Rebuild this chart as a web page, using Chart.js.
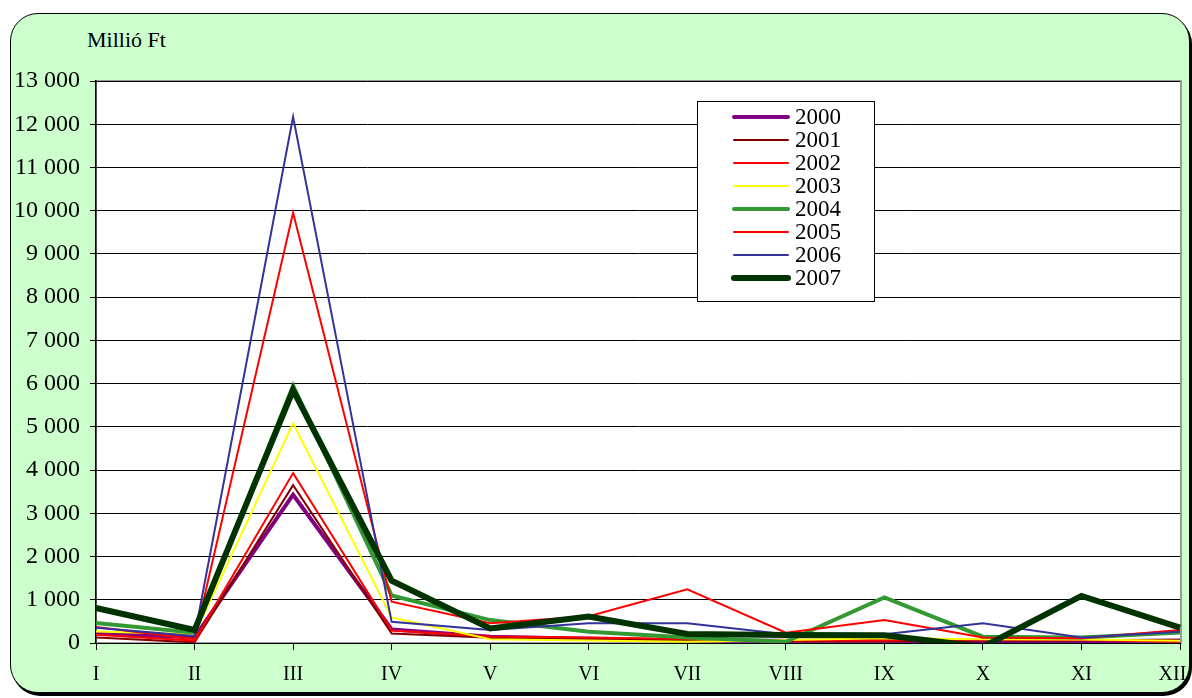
<!DOCTYPE html>
<html>
<head>
<meta charset="utf-8">
<script src="https://cdn.jsdelivr.net/npm/chart.js@4/dist/chart.umd.min.js"></script>
<style>
  html, body { margin:0; padding:0; background:#fff; width:1192px; height:698px; overflow:hidden; }
  #box { position:absolute; left:10px; top:13px; width:1178px; height:678px; border:1.5px solid #000; border-radius:28px; box-shadow:2px 3px 0 #000; background:#CCFFCC; }
  #unit { position:absolute; left:87px; top:29px; font:22px "Liberation Serif", "Times New Roman", serif; line-height:1; color:#000; }
  #c { position:absolute; left:0; top:0; }
</style>
</head>
<body>
<div id="box"></div>
<div id="unit">Millió Ft</div>
<canvas id="c" width="1192" height="698"></canvas>
<script>
const months = ["I","II","III","IV","V","VI","VII","VIII","IX","X","XI","XII"];
const years = ["2000","2001","2002","2003","2004","2005","2006","2007"];
const v2000 = [230, 130, 3430, 315, 145, 100, 60, 50, 50, 40, 40, 60];
const v2001 = [125, 15, 3650, 220, 120, 90, 50, 40, 40, 60, 60, 70];
const v2002 = [190, 55, 3930, 290, 150, 130, 90, 60, 60, 80, 70, 30];
const v2003 = [265, 205, 5080, 590, 85, 55, 30, 70, 110, 85, 80, 50];
const v2004 = [460, 240, 5950, 1100, 530, 260, 130, 30, 1055, 145, 130, 240];
const v2005 = [370, 90, 9950, 955, 455, 620, 1240, 240, 530, 130, 110, 300];
const v2006 = [350, 160, 12170, 490, 300, 455, 455, 200, 200, 455, 130, 260];
const v2007 = [810, 300, 5850, 1440, 335, 610, 210, 185, 180, -90, 1090, 355];
const yMin = 0, yMax = 13000, yStep = 1000;

const seriesValues = [v2000, v2001, v2002, v2003, v2004, v2005, v2006, v2007];
const colors = ["#800080", "#800000", "#FF0000", "#FFFF00", "#339933", "#FF0000", "#333399", "#003300"];
const widths = [4, 2, 2, 2, 4, 2, 2, 6];

const serif = '"Liberation Serif", "Times New Roman", serif';

const datasets = years.map((y, i) => ({
  label: y,
  data: seriesValues[i],
  borderColor: colors[i],
  backgroundColor: colors[i],
  borderWidth: widths[i],
  pointRadius: 0,
  pointHoverRadius: 0,
  tension: 0,
  fill: false,
  order: years.length - 1 - i,
  borderJoinStyle: 'miter'
}));

const plotBg = {
  id: 'plotBg',
  beforeDraw(chart) {
    const {ctx, chartArea: a} = chart;
    ctx.save();
    ctx.fillStyle = '#fff';
    ctx.fillRect(a.left, a.top, a.right - a.left, a.bottom - a.top);
    ctx.strokeStyle = '#808080';
    ctx.lineWidth = 1.5;
    ctx.strokeRect(a.left, a.top, a.right - a.left + 1, a.bottom - a.top);
    ctx.restore();
  }
};

const legendBox = {
  id: 'legendBox',
  afterDraw(chart) {
    const ctx = chart.ctx;
    const bx = 697, by = 101, bw = 177, bh = 200;
    ctx.save();
    ctx.fillStyle = '#fff';
    ctx.fillRect(bx, by, bw, bh);
    ctx.strokeStyle = '#000';
    ctx.lineWidth = 1;
    ctx.strokeRect(bx + 0.5, by + 0.5, bw, bh);
    ctx.font = '23px ' + serif;
    ctx.textBaseline = 'middle';
    ctx.textAlign = 'left';
    chart.data.datasets.forEach((ds, i) => {
      const y = 117 + i * 23;
      ctx.beginPath();
      ctx.strokeStyle = ds.borderColor;
      ctx.lineWidth = ds.borderWidth;
      ctx.lineCap = 'round';
      ctx.moveTo(734, y);
      ctx.lineTo(788, y);
      ctx.stroke();
      ctx.fillStyle = '#000';
      ctx.fillText(ds.label, 795, y + 1);
    });
    ctx.restore();
  }
};

new Chart(document.getElementById('c'), {
  type: 'line',
  data: { labels: months, datasets },
  options: {
    responsive: false,
    animation: false,
    events: [],
    layout: { padding: { left: 0, top: 81, right: 12, bottom: 0 } },
    plugins: { legend: { display: false }, tooltip: { enabled: false }, title: { display: false } },
    scales: {
      x: {
        type: 'category',
        offset: false,
        grid: { drawOnChartArea: false, drawTicks: true, tickLength: 7, color: '#000', lineWidth: 1 },
        border: { display: true, color: '#000', width: 1 },
        ticks: {
          color: '#000', font: { family: serif, size: 20 }, padding: 13, maxRotation: 0, autoSkip: false,
          callback: (v, i) => i === months.length - 1 ? months[i] + '\u2002 ' : months[i]
        },
        afterFit(s) { s.height = 55; s.paddingLeft = 0; s.paddingRight = 0; }
      },
      y: {
        min: yMin, max: yMax,
        grid: { drawOnChartArea: true, drawTicks: true, tickLength: 6, color: '#000', lineWidth: 1 },
        border: { display: true, color: '#000', width: 1.5 },
        ticks: {
          stepSize: yStep, color: '#000', padding: 10,
          font: { family: serif, size: 24 },
          callback: v => String(v).replace(/\B(?=(\d{3})+(?!\d))/g, ' ')
        },
        afterFit(s) { s.width = 96; s.paddingTop = 0; s.paddingBottom = 0; }
      }
    }
  },
  plugins: [plotBg, legendBox]
});
</script>
</body>
</html>
